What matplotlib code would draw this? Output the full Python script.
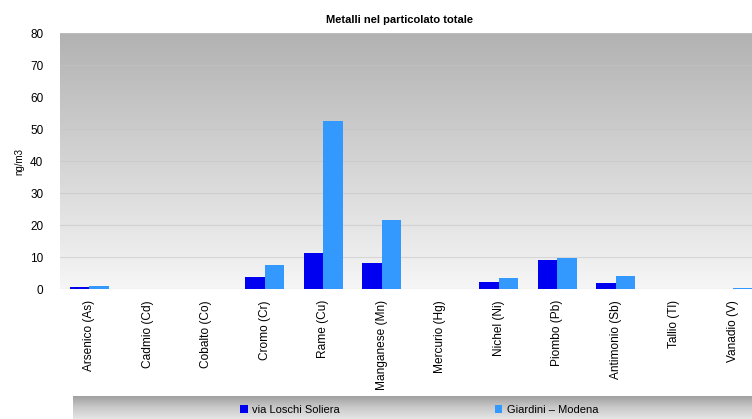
import numpy as np
import matplotlib.pyplot as plt
from matplotlib.colors import LinearSegmentedColormap

plt.rcParams['font.family'] = ['Liberation Sans', 'DejaVu Sans']

# data
metals = ['Arsenico (As)', 'Cadmio (Cd)', 'Cobalto (Co)', 'Cromo (Cr)', 'Rame (Cu)',
          'Manganese (Mn)', 'Mercurio (Hg)', 'Nichel (Ni)', 'Piombo (Pb)',
          'Antimonio (Sb)', 'Tallio (Tl)', 'Vanadio (V)']
soliera = [0.5, 0.1, 0.0, 3.6, 11.1, 8.2, 0.1, 2.2, 9.2, 2.0, 0.0, 0.1]
modena = [1.0, 0.1, 0.0, 7.6, 52.5, 21.6, 0.1, 3.4, 9.8, 4.2, 0.0, 0.3]
names = ['via Loschi Soliera', 'Giardini \u2013 Modena']
yticks = [0, 10, 20, 30, 40, 50, 60, 70, 80]

fig = plt.figure(figsize=(7.52, 4.19), dpi=100)

# main plot area (right side is cut off like in the original)
ax = fig.add_axes([60/752, 130/419, 702/752, 256/419])
bg = LinearSegmentedColormap.from_list('bg', ['#f6f6f6', '#b2b2b2'])
grad = np.linspace(0, 1, 256).reshape(-1, 1)
ax.imshow(grad, cmap=bg, origin='lower', extent=[0, 1, 0, 1], transform=ax.transAxes,
          aspect='auto', zorder=0)

x = np.arange(len(metals))
w = 0.33
b1 = ax.bar(x - w/2, soliera, w, color='#0000f0', label=names[0], zorder=3)
b2 = ax.bar(x + w/2, modena, w, color='#3399ff', label=names[1], zorder=3)

ax.set_xlim(-0.5, len(metals) - 0.5)
ax.set_ylim(0, 80)
ax.set_yticks(yticks)
ax.set_xticks(x)
ax.set_xticklabels(metals, rotation=90, fontsize=8.6)
ax.tick_params(axis='y', labelsize=8.5, length=0, pad=12)
ax.tick_params(axis='x', length=0, pad=8)
for v in yticks[1:]:
    ax.axhline(v, color='#c4c4c4', lw=0.8, alpha=0.55, zorder=1)
ax.axhline(0, color='#d0d0d0', lw=0.8, zorder=2)
for s in ax.spines.values():
    s.set_visible(False)
ax.set_ylabel('ng/m3', fontsize=7, labelpad=4)

fig.text(400/752, 1 - 20/419, 'Metalli nel particolato totale', ha='center', va='center',
         fontsize=8, fontweight='bold')

# legend band at the bottom
lax = fig.add_axes([73/752, 0, 679/752, 23/419])
band = LinearSegmentedColormap.from_list('band', ['#e6e6e6', '#c8c8c8', '#9c9c9c'])
lax.imshow(grad, cmap=band, origin='lower', extent=[0, 1, 0, 1], aspect='auto')
lax.set_axis_off()
lax.legend(handles=[b1, b2], loc='center', bbox_to_anchor=(0.51, 0.4), ncol=2,
           frameon=False, fontsize=8, handlelength=0.7, handleheight=0.7,
           handletextpad=0.4, columnspacing=13.9, borderpad=0)

fig.savefig('out.png', dpi=100)
